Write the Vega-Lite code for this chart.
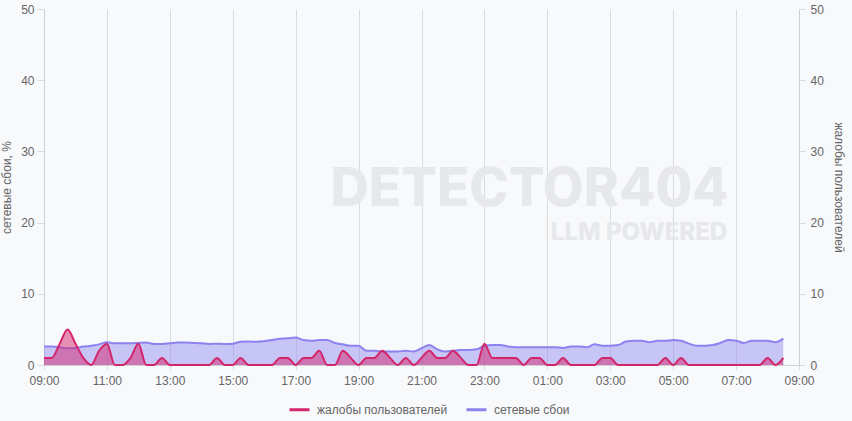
{
  "$schema": "https://vega.github.io/schema/vega-lite/v6.json",
  "width": 755,
  "height": 356,
  "autosize": {"type": "none"},
  "padding": {"left": 44, "top": 9, "right": 53, "bottom": 56},
  "background": "#f8f9fb",
  "config": {
    "view": {"stroke": null},
    "font": "Liberation Sans",
    "axis": {
      "labelColor": "#666666",
      "labelFont": "Liberation Sans",
      "labelFontSize": 12,
      "titleColor": "#666666",
      "titleFont": "Liberation Sans",
      "titleFontSize": 12,
      "titleFontWeight": "normal",
      "gridColor": "#dadbdd",
      "domainColor": "#cfd0d2",
      "tickColor": "#dadbdd",
      "tickSize": 6
    },
    "legend": {
      "labelColor": "#666666",
      "labelFont": "Liberation Sans",
      "labelFontSize": 12
    }
  },
  "data": {
    "values": [
      {"t": "2024-01-01T09:00", "n": 2.6, "c": 1},
      {"t": "2024-01-01T09:15", "n": 2.6, "c": 1},
      {"t": "2024-01-01T09:30", "n": 2.5, "c": 3},
      {"t": "2024-01-01T09:45", "n": 2.35, "c": 5},
      {"t": "2024-01-01T10:00", "n": 2.4, "c": 3},
      {"t": "2024-01-01T10:15", "n": 2.6, "c": 1},
      {"t": "2024-01-01T10:30", "n": 2.7, "c": 0},
      {"t": "2024-01-01T10:45", "n": 2.9, "c": 2},
      {"t": "2024-01-01T11:00", "n": 3.2, "c": 3},
      {"t": "2024-01-01T11:15", "n": 3.05, "c": 0},
      {"t": "2024-01-01T11:30", "n": 3.05, "c": 0},
      {"t": "2024-01-01T11:45", "n": 3.05, "c": 1},
      {"t": "2024-01-01T12:00", "n": 3.1, "c": 3},
      {"t": "2024-01-01T12:15", "n": 3.15, "c": 0},
      {"t": "2024-01-01T12:30", "n": 2.95, "c": 0},
      {"t": "2024-01-01T12:45", "n": 2.95, "c": 1},
      {"t": "2024-01-01T13:00", "n": 3.05, "c": 0},
      {"t": "2024-01-01T13:15", "n": 3.15, "c": 0},
      {"t": "2024-01-01T13:30", "n": 3.15, "c": 0},
      {"t": "2024-01-01T13:45", "n": 3.1, "c": 0},
      {"t": "2024-01-01T14:00", "n": 3.05, "c": 0},
      {"t": "2024-01-01T14:15", "n": 2.95, "c": 0},
      {"t": "2024-01-01T14:30", "n": 3.0, "c": 1},
      {"t": "2024-01-01T14:45", "n": 2.95, "c": 0},
      {"t": "2024-01-01T15:00", "n": 3.0, "c": 0},
      {"t": "2024-01-01T15:15", "n": 3.25, "c": 1},
      {"t": "2024-01-01T15:30", "n": 3.3, "c": 0},
      {"t": "2024-01-01T15:45", "n": 3.25, "c": 0},
      {"t": "2024-01-01T16:00", "n": 3.35, "c": 0},
      {"t": "2024-01-01T16:15", "n": 3.5, "c": 0},
      {"t": "2024-01-01T16:30", "n": 3.7, "c": 1},
      {"t": "2024-01-01T16:45", "n": 3.75, "c": 1},
      {"t": "2024-01-01T17:00", "n": 3.85, "c": 0},
      {"t": "2024-01-01T17:15", "n": 3.5, "c": 1},
      {"t": "2024-01-01T17:30", "n": 3.4, "c": 1},
      {"t": "2024-01-01T17:45", "n": 3.5, "c": 2},
      {"t": "2024-01-01T18:00", "n": 3.5, "c": 0},
      {"t": "2024-01-01T18:15", "n": 3.1, "c": 0},
      {"t": "2024-01-01T18:30", "n": 2.9, "c": 2},
      {"t": "2024-01-01T18:45", "n": 2.7, "c": 1},
      {"t": "2024-01-01T19:00", "n": 2.7, "c": 0},
      {"t": "2024-01-01T19:15", "n": 2.0, "c": 1},
      {"t": "2024-01-01T19:30", "n": 2.0, "c": 1},
      {"t": "2024-01-01T19:45", "n": 1.9, "c": 2},
      {"t": "2024-01-01T20:00", "n": 1.9, "c": 1},
      {"t": "2024-01-01T20:15", "n": 1.9, "c": 0},
      {"t": "2024-01-01T20:30", "n": 2.0, "c": 1},
      {"t": "2024-01-01T20:45", "n": 1.9, "c": 0},
      {"t": "2024-01-01T21:00", "n": 2.35, "c": 1},
      {"t": "2024-01-01T21:15", "n": 2.8, "c": 2},
      {"t": "2024-01-01T21:30", "n": 2.2, "c": 1},
      {"t": "2024-01-01T21:45", "n": 1.9, "c": 1},
      {"t": "2024-01-01T22:00", "n": 2.0, "c": 2},
      {"t": "2024-01-01T22:15", "n": 2.1, "c": 1},
      {"t": "2024-01-01T22:30", "n": 2.1, "c": 0},
      {"t": "2024-01-01T22:45", "n": 2.2, "c": 0},
      {"t": "2024-01-01T23:00", "n": 2.7, "c": 3},
      {"t": "2024-01-01T23:15", "n": 2.8, "c": 1},
      {"t": "2024-01-01T23:30", "n": 2.8, "c": 1},
      {"t": "2024-01-01T23:45", "n": 2.6, "c": 1},
      {"t": "2024-01-02T00:00", "n": 2.5, "c": 1},
      {"t": "2024-01-02T00:15", "n": 2.5, "c": 0},
      {"t": "2024-01-02T00:30", "n": 2.5, "c": 1},
      {"t": "2024-01-02T00:45", "n": 2.5, "c": 1},
      {"t": "2024-01-02T01:00", "n": 2.5, "c": 0},
      {"t": "2024-01-02T01:15", "n": 2.5, "c": 0},
      {"t": "2024-01-02T01:30", "n": 2.4, "c": 1},
      {"t": "2024-01-02T01:45", "n": 2.6, "c": 0},
      {"t": "2024-01-02T02:00", "n": 2.6, "c": 0},
      {"t": "2024-01-02T02:15", "n": 2.5, "c": 0},
      {"t": "2024-01-02T02:30", "n": 2.9, "c": 0},
      {"t": "2024-01-02T02:45", "n": 2.7, "c": 1},
      {"t": "2024-01-02T03:00", "n": 2.7, "c": 1},
      {"t": "2024-01-02T03:15", "n": 2.8, "c": 0},
      {"t": "2024-01-02T03:30", "n": 3.3, "c": 0},
      {"t": "2024-01-02T03:45", "n": 3.4, "c": 0},
      {"t": "2024-01-02T04:00", "n": 3.4, "c": 0},
      {"t": "2024-01-02T04:15", "n": 3.2, "c": 0},
      {"t": "2024-01-02T04:30", "n": 3.4, "c": 0},
      {"t": "2024-01-02T04:45", "n": 3.4, "c": 1},
      {"t": "2024-01-02T05:00", "n": 3.5, "c": 0},
      {"t": "2024-01-02T05:15", "n": 3.4, "c": 1},
      {"t": "2024-01-02T05:30", "n": 3.0, "c": 0},
      {"t": "2024-01-02T05:45", "n": 2.7, "c": 0},
      {"t": "2024-01-02T06:00", "n": 2.7, "c": 0},
      {"t": "2024-01-02T06:15", "n": 2.8, "c": 0},
      {"t": "2024-01-02T06:30", "n": 3.1, "c": 0},
      {"t": "2024-01-02T06:45", "n": 3.5, "c": 0},
      {"t": "2024-01-02T07:00", "n": 3.4, "c": 0},
      {"t": "2024-01-02T07:15", "n": 3.1, "c": 0},
      {"t": "2024-01-02T07:30", "n": 3.4, "c": 0},
      {"t": "2024-01-02T07:45", "n": 3.4, "c": 0},
      {"t": "2024-01-02T08:00", "n": 3.4, "c": 1},
      {"t": "2024-01-02T08:15", "n": 3.2, "c": 0},
      {"t": "2024-01-02T08:30", "n": 3.7, "c": 1}
    ]
  },
  "encoding": {
    "x": {
      "field": "t",
      "type": "temporal",
      "scale": {
        "domain": [
          {"year": 2024, "month": 1, "date": 1, "hours": 9},
          {"year": 2024, "month": 1, "date": 2, "hours": 9}
        ]
      },
      "axis": {
        "title": null,
        "format": "%H:%M",
        "labelPadding": 5,
        "labelFlush": false,
        "labelOverlap": false,
        "tickSize": 5,
        "values": [
          {"year": 2024, "month": 1, "date": 1, "hours": 9},
          {"year": 2024, "month": 1, "date": 1, "hours": 11},
          {"year": 2024, "month": 1, "date": 1, "hours": 13},
          {"year": 2024, "month": 1, "date": 1, "hours": 15},
          {"year": 2024, "month": 1, "date": 1, "hours": 17},
          {"year": 2024, "month": 1, "date": 1, "hours": 19},
          {"year": 2024, "month": 1, "date": 1, "hours": 21},
          {"year": 2024, "month": 1, "date": 1, "hours": 23},
          {"year": 2024, "month": 1, "date": 2, "hours": 1},
          {"year": 2024, "month": 1, "date": 2, "hours": 3},
          {"year": 2024, "month": 1, "date": 2, "hours": 5},
          {"year": 2024, "month": 1, "date": 2, "hours": 7},
          {"year": 2024, "month": 1, "date": 2, "hours": 9}
        ]
      }
    }
  },
  "layer": [
    {
      "layer": [
        {
          "transform": [{"filter": {"field": "c", "equal": 5}}],
          "mark": {"type": "text", "text": "DETECTOR404", "font": "Inter", "fontWeight": 800, "fontSize": 53, "color": "#e6e8ec", "align": "center", "baseline": "alphabetic"},
          "encoding": {
            "x": {"datum": {"year": 2024, "month": 1, "date": 2, "hours": 0, "minutes": 26}, "type": "temporal"},
            "y": {"datum": 22.4, "type": "quantitative"}
          }
        },
        {
          "transform": [{"filter": {"field": "c", "equal": 5}}],
          "mark": {"type": "text", "text": "LLM POWERED", "font": "Inter", "fontWeight": 800, "fontSize": 24, "color": "#e6e8ec", "align": "right", "baseline": "alphabetic"},
          "encoding": {
            "x": {"datum": {"year": 2024, "month": 1, "date": 2, "hours": 6, "minutes": 43}, "type": "temporal"},
            "y": {"datum": 17.6, "type": "quantitative"}
          }
        },
        {
          "mark": {"type": "area", "interpolate": "monotone", "color": "#8c82f0", "fillOpacity": 0.45},
          "encoding": {
            "y": {
              "field": "n",
              "type": "quantitative",
              "scale": {"domain": [0, 50]},
              "title": "сетевые сбои, %",
              "axis": {"title": "сетевые сбои, %", "orient": "left", "values": [0, 10, 20, 30, 40, 50], "tickSize": 7, "labelPadding": 3, "titlePadding": 7}
            }
          }
        },
        {
          "mark": {"type": "line", "interpolate": "monotone", "strokeWidth": 2},
          "encoding": {
            "y": {"field": "n", "type": "quantitative", "title": "сетевые сбои, %"},
            "color": {
              "datum": "сетевые сбои",
              "type": "nominal",
              "scale": {"domain": ["жалобы пользователей", "сетевые сбои"], "range": ["#d2266b", "#8c82f0"]},
              "legend": {
                "title": null,
                "orient": "none",
                "direction": "horizontal",
                "legendX": 244,
                "legendY": 389,
                "symbolType": "stroke",
                "symbolSize": 400,
                "symbolStrokeWidth": 3,
                "labelOffset": 6,
                "columnPadding": 12
              }
            }
          }
        }
      ]
    },
    {
      "layer": [
        {
          "mark": {"type": "area", "interpolate": "monotone", "color": "#d6246e", "fillOpacity": 0.5},
          "encoding": {
            "y": {
              "field": "c",
              "type": "quantitative",
              "scale": {"domain": [0, 50]},
              "title": "жалобы пользователей",
              "axis": {"title": "жалобы пользователей", "orient": "right", "values": [0, 10, 20, 30, 40, 50], "grid": false, "tickSize": 6, "labelPadding": 5, "titlePadding": 8}
            }
          }
        },
        {
          "mark": {"type": "line", "interpolate": "monotone", "strokeWidth": 2},
          "encoding": {
            "y": {"field": "c", "type": "quantitative", "title": "жалобы пользователей"},
            "color": {"datum": "жалобы пользователей", "type": "nominal"}
          }
        }
      ]
    }
  ],
  "resolve": {"scale": {"y": "independent"}}
}
